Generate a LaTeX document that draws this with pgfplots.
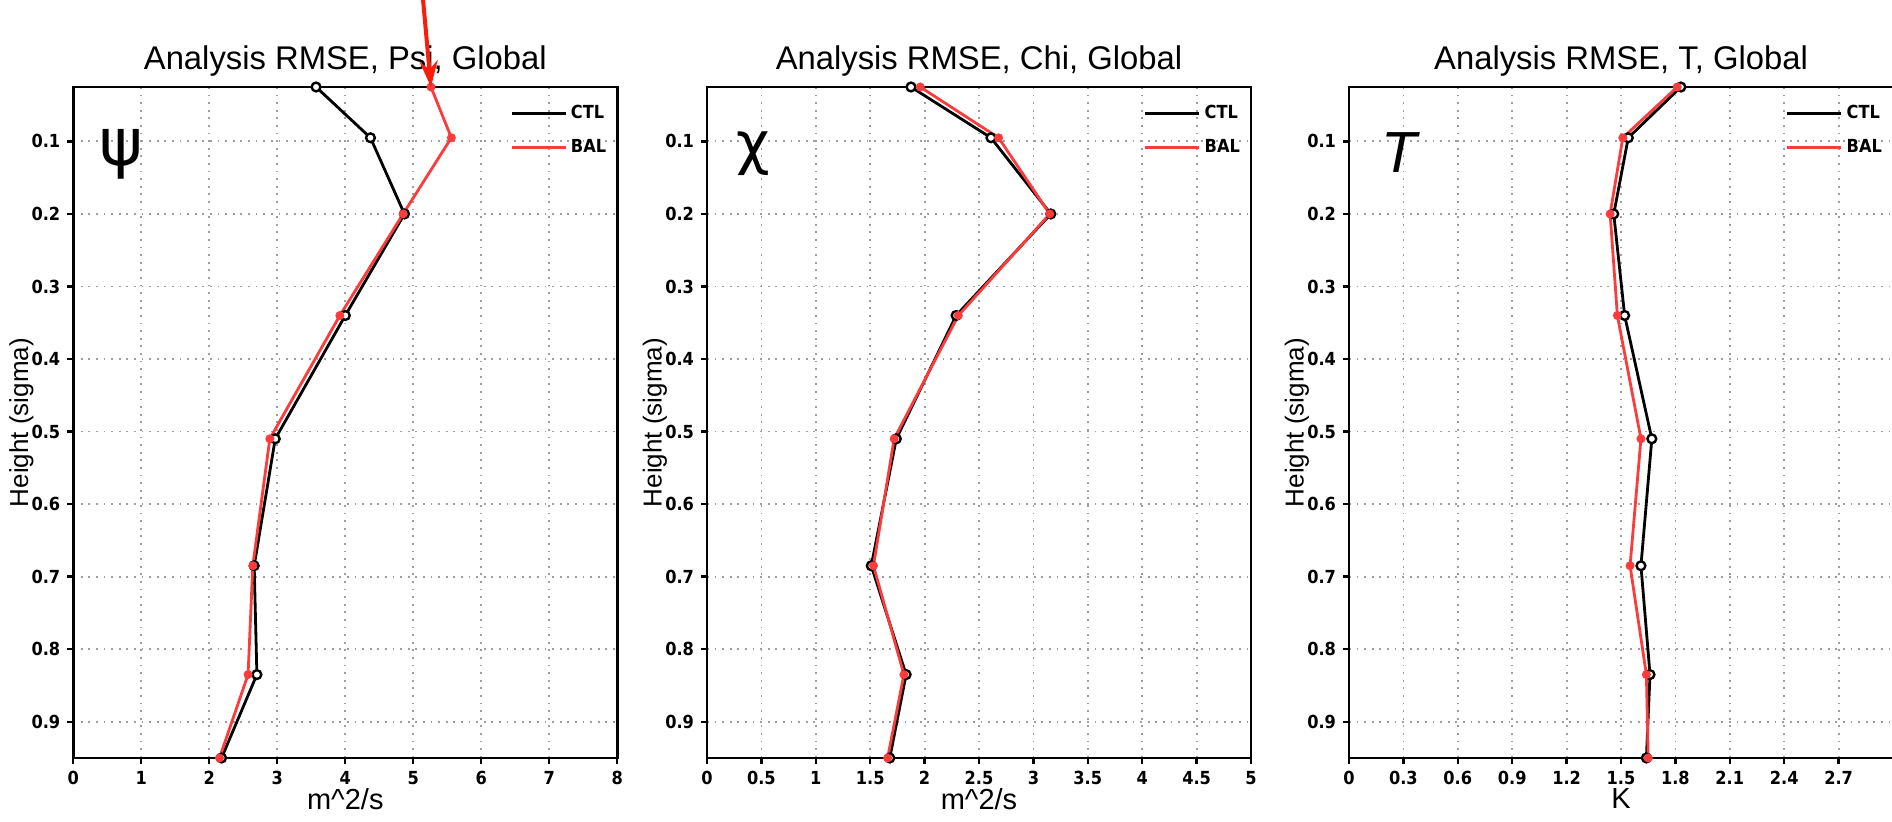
\documentclass[border=0pt]{standalone}
\usepackage{fontspec}
\setmainfont{Liberation Sans}
\newfontfamily\tickfont{DejaVu Sans Condensed Bold}
\newfontfamily\greekfont{DejaVu Sans}
\usepackage{pgfplots}
\pgfplotsset{compat=1.18}
\usetikzlibrary{arrows.meta,calc}
\definecolor{balred}{RGB}{250,60,60}
\definecolor{arrowred}{RGB}{250,30,10}

\pgfplotsset{
  rmse/.style={
    scale only axis, width=272pt, height=335.5pt,
    anchor=south west,
    y dir=reverse, ymin=0.025, ymax=0.95,
    ytick={0.1,0.2,0.3,0.4,0.5,0.6,0.7,0.8,0.9},
    yticklabels={0.1,0.2,0.3,0.4,0.5,0.6,0.7,0.8,0.9},
    grid=major,
    major grid style={black!38, line width=0.9pt, dash pattern=on 0.9pt off 2.9pt},
    axis line style={line width=1.4pt},
    tick align=outside, xtick pos=left, ytick pos=left,
    major tick length=3pt,
    every tick/.style={black, line width=1.2pt},
    tick label style={font=\tickfont\fontsize{9}{10}\selectfont},
    every axis title shift=0pt,
    title style={font=\fontsize{16.4}{18}\selectfont, at={(axis description cs:0.5,1.038)}, anchor=center},
    ylabel={Height (sigma)},
    ylabel style={font=\fontsize{13}{15}\selectfont, at={(axis description cs:-0.0956,0.5)}, anchor=center, rotate=0},
    xlabel style={font=\fontsize{14.5}{16}\selectfont, at={(axis description cs:0.5,-0.0611)}, anchor=center},
    legend style={draw=none, fill=none, at={(axis description cs:0.995,0.985)}, anchor=north east,
      font=\tickfont\fontsize{9}{11}\selectfont, row sep=5pt, inner sep=2pt},
    legend cell align=left,
    legend image code/.code={\draw[##1] (0pt,0pt) -- (27pt,0pt);},
  },
  ctl/.style={black, line width=1.4pt, mark=*, mark size=2.2pt, mark options={fill=white, draw=black, line width=1.2pt}},
  bal/.style={balred, line width=1.4pt, mark=*, mark size=1.5pt, mark options={fill=balred, draw=balred}},
}

\begin{document}
\begin{tikzpicture}
\useasboundingbox (0,0) rectangle (946pt,411pt);
\clip (0,0) rectangle (946pt,411pt);

% Panel 1: Psi
\begin{axis}[rmse, at={(36.65pt,32pt)},
  title={Analysis RMSE, Psi, Global},
  xlabel={m\textasciicircum 2/s},
  xmin=0, xmax=8, xtick={0,1,2,3,4,5,6,7,8},
  xticklabels={0,1,2,3,4,5,6,7,8}]
\addplot[ctl] coordinates {(3.57,0.025) (4.37,0.095) (4.87,0.2) (4.00,0.34) (2.97,0.51) (2.66,0.685) (2.70,0.835) (2.18,0.95)};
\addlegendentry{CTL}
\addplot[bal] coordinates {(5.26,0.025) (5.56,0.095) (4.85,0.2) (3.92,0.34) (2.89,0.51) (2.64,0.685) (2.57,0.835) (2.15,0.95)};
\addlegendentry{BAL}
\node[font=\greekfont\fontsize{33}{35}\selectfont, anchor=center] at (axis description cs:0.088,0.9) {ψ};
\coordinate (arrowtip) at (axis cs:5.26,0.025);
\end{axis}
\draw[arrowred, line width=2pt, -{Stealth[length=13pt, width=9pt]}]
  ($(arrowtip)+(-4pt,44pt)$) -- (arrowtip);

% Panel 2: Chi
\begin{axis}[rmse, at={(353.5pt,32pt)},
  title={Analysis RMSE, Chi, Global},
  xlabel={m\textasciicircum 2/s},
  xmin=0, xmax=5, xtick={0,0.5,1,1.5,2,2.5,3,3.5,4,4.5,5},
  xticklabels={0,0.5,1,1.5,2,2.5,3,3.5,4,4.5,5}]
\addplot[ctl] coordinates {(1.875,0.025) (2.61,0.095) (3.16,0.2) (2.29,0.34) (1.74,0.51) (1.51,0.685) (1.83,0.835) (1.68,0.95)};
\addlegendentry{CTL}
\addplot[bal] coordinates {(1.96,0.025) (2.68,0.095) (3.15,0.2) (2.31,0.34) (1.72,0.51) (1.53,0.685) (1.81,0.835) (1.66,0.95)};
\addlegendentry{BAL}
\node[font=\greekfont\fontsize{29}{31}\selectfont, anchor=center] at (axis description cs:0.085,0.9) {χ};
\end{axis}

% Panel 3: T
\begin{axis}[rmse, at={(674.5pt,32pt)},
  title={Analysis RMSE, T, Global},
  xlabel={K},
  xmin=0, xmax=3, xtick={0,0.3,0.6,0.9,1.2,1.5,1.8,2.1,2.4,2.7},
  xticklabels={0,0.3,0.6,0.9,1.2,1.5,1.8,2.1,2.4,2.7}]
\addplot[ctl] coordinates {(1.83,0.025) (1.54,0.095) (1.46,0.2) (1.52,0.34) (1.67,0.51) (1.61,0.685) (1.66,0.835) (1.64,0.95)};
\addlegendentry{CTL}
\addplot[bal] coordinates {(1.81,0.025) (1.51,0.095) (1.44,0.2) (1.48,0.34) (1.61,0.51) (1.55,0.685) (1.64,0.835) (1.65,0.95)};
\addlegendentry{BAL}
\node[font=\itshape\fontsize{29}{31}\selectfont, anchor=center] at (axis description cs:0.092,0.903) {T};
\end{axis}
\end{tikzpicture}
\end{document}
